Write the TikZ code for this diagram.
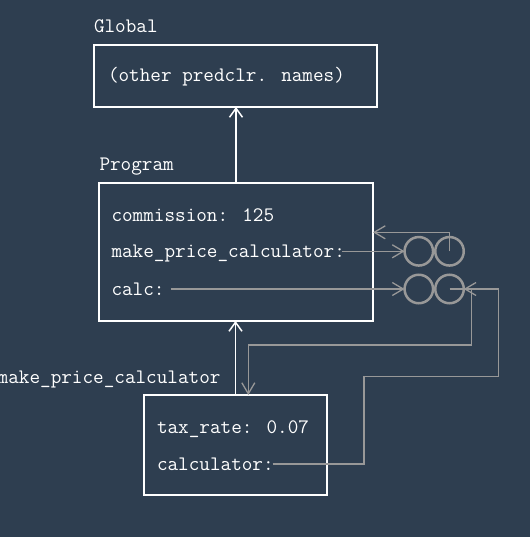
\documentclass[tikz,border=0pt]{standalone}
\usetikzlibrary{arrows.meta}
\definecolor{bgc}{RGB}{46,62,80}
\definecolor{gr}{RGB}{152,152,152}
\begin{document}
\begin{tikzpicture}[x=1pt,y=-1pt,
  every node/.style={inner sep=0pt, outer sep=0pt},
  txt/.style={text=white, anchor=base west, font=\fontsize{20.6}{21}\selectfont\ttfamily},
  frame/.style={draw=white, line width=2pt},
  cell/.style={circle, draw=gr, line width=2.5pt, minimum size=28.5pt},
  warrow/.style={draw=white, line width=1.5pt, -{Straight Barb[length=9pt,width=13pt,line width=1.5pt]}},
  garrow/.style={draw=gr, line width=1.3pt, -{Straight Barb[length=11pt,width=13pt,line width=1.3pt]}}]
\useasboundingbox (0,0) rectangle (530,537);
\fill[bgc] (0,0) rectangle (530,537);
\clip (0,0) rectangle (530,537);

% frames
\node[frame, minimum width=283pt, minimum height=62pt] (glob) at (235.5,76) {};
\node[frame, minimum width=274pt, minimum height=138pt] (prog) at (236,252) {};
\node[frame, minimum width=183pt, minimum height=100pt] (mpcf) at (235.5,445) {};

% labels
\node[txt] (lglob) at (94,33) {Global};
\node[txt] (lprog) at (99.5,171) {Program};
\node[txt, anchor=base east] (lmpc) at (220.5,383) {make\_price\_calculator};

% contents
\node[txt] (other) at (108,82) {(other predclr. names)};
\node[txt] (comm) at (111.5,221) {commission: 125};
\node[txt] (mpc) at (111.5,257.5) {make\_price\_calculator:};
\node[txt] (calc) at (111.5,295) {calc:};
\node[txt] (tax) at (157,433.5) {tax\_rate: 0.07};
\node[txt] (calcr) at (157,470.5) {calculator:};

% function objects
\node[cell] (c1a) at (418.8,251.3) {};
\node[cell] (c1b) at (449.5,251.3) {};
\node[cell] (c2a) at (418.8,289) {};
\node[cell] (c2b) at (449.5,289) {};

% parent arrows
\draw[warrow] (prog.north) -- (prog.north |- glob.south);
\draw[warrow] (mpcf.north) -- (mpcf.north |- prog.south);

% helper coordinates
\coordinate (k1) at (449.5,232.3);
\coordinate (k2) at (471.7,345);
\coordinate (k3) at (248.3,345);
\coordinate (k4) at (364,464);
\coordinate (k5) at (364,376.7);
\coordinate (k6) at (498.3,376.7);
\coordinate (k7) at (498.3,289);

% pointers
\draw[garrow] (mpc.east |- c1a.west) ++(-3,0) -- (c1a.west);
\draw[garrow] (calc.east |- c2a.west) ++(6,0) -- (c2a.west);
\draw[garrow] (c1b.center) -- (k1) -- (k1 -| prog.east);
\draw[garrow] (c2b.center) -| (k2) -- (k3) -- (k3 |- mpcf.north);
\draw[garrow] (calcr.east |- k4) ++(-1,0) -- (k4) -- (k5) -- (k6) -- (k7) -- (c2b.east);
\end{tikzpicture}
\end{document}
